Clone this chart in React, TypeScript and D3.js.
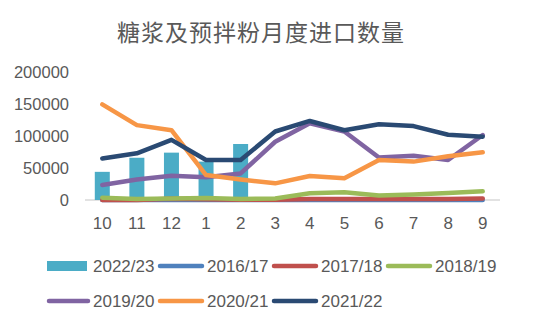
import React from "react";
import * as d3 from "d3";

const months = ["10", "11", "12", "1", "2", "3", "4", "5", "6", "7", "8", "9"];
const yTicks = [0, 50000, 100000, 150000, 200000];

const bar2223 = [44000, 66000, 74000, 60000, 87500, null, null, null, null, null, null, null];
const s1617 = [0, 0, 0, 0, 0, 0, 0, 0, 0, 0, 0, 0];
const s1718 = [0, 0, 2000, 1000, 500, 500, 1500, 1500, 1500, 1500, 1500, 2500];
const s1819 = [3500, 1500, 2500, 3000, 1500, 2500, 10500, 12000, 7000, 8500, 11000, 13500];
const s1920 = [23500, 32000, 38000, 35500, 41500, 91000, 120000, 107000, 66500, 69000, 62500, 101500];
const s2021 = [149500, 117000, 109000, 39000, 32000, 26000, 37500, 34000, 62500, 60000, 68500, 74500];
const s2122 = [65000, 73000, 94000, 62500, 62500, 107000, 123500, 109000, 118500, 115500, 102000, 99000];

const lineSeries = [
  { name: "2016/17", values: s1617, color: "#4F81BD" },
  { name: "2017/18", values: s1718, color: "#C0504D" },
  { name: "2018/19", values: s1819, color: "#9BBB59" },
  { name: "2019/20", values: s1920, color: "#8064A2" },
  { name: "2020/21", values: s2021, color: "#F79646" },
  { name: "2021/22", values: s2122, color: "#2A4A73" },
];
const barColor = "#4BACC6";

export default function App() {
  const W = 539, H = 328;
  const x = d3.scaleBand<string>().domain(months).range([85, 500]).padding(0);
  const y = d3.scaleLinear().domain([0, 200000]).range([200, 72]);
  const line = d3
    .line<number>()
    .x((_, i) => (x(months[i]) as number) + x.bandwidth() / 2)
    .y((d) => y(d));
  const barW = 15;
  const font = "'Liberation Sans', Arial, sans-serif";

  const legendItems = [
    { name: "2022/23", color: barColor, bar: true },
    ...lineSeries.map((s) => ({ name: s.name, color: s.color, bar: false })),
  ];

  return (
    <svg width={W} height={H} style={{ position: "absolute", left: 0, top: 0, background: "#fff" }}>
      <text
        x={261}
        y={31}
        textAnchor="middle"
        dominantBaseline="central"
        fontFamily="'Noto Sans CJK SC', sans-serif"
        fontSize={23}
        letterSpacing={1}
        fill="#595959"
      >
        糖浆及预拌粉月度进口数量
      </text>
      {yTicks.map((t) => (
        <text
          key={t}
          x={69}
          y={y(t)}
          textAnchor="end"
          dominantBaseline="central"
          fontFamily={font}
          fontSize={16.5}
          fill="#595959"
        >
          {t}
        </text>
      ))}
      <line x1={85} x2={500} y1={y(0)} y2={y(0)} stroke="#D9D9D9" strokeWidth={1.5} />
      {bar2223.map((v, i) =>
        v == null ? null : (
          <rect
            key={i}
            x={(x(months[i]) as number) + x.bandwidth() / 2 - barW / 2}
            y={y(v)}
            width={barW}
            height={y(0) - y(v)}
            fill={barColor}
          />
        )
      )}
      {lineSeries.map((s) => (
        <path
          key={s.name}
          d={line(s.values) || ""}
          fill="none"
          stroke={s.color}
          strokeWidth={4.5}
          strokeLinejoin="round"
          strokeLinecap="round"
        />
      ))}
      {months.map((m) => (
        <text
          key={m}
          x={(x(m) as number) + x.bandwidth() / 2}
          y={223}
          textAnchor="middle"
          dominantBaseline="central"
          fontFamily={font}
          fontSize={17}
          fill="#595959"
        >
          {m}
        </text>
      ))}
      {legendItems.map((it, i) => {
        const row = Math.floor(i / 4);
        const col = i % 4;
        const x0 = 47 + col * 114;
        const cy = row === 0 ? 266 : 301;
        return (
          <g key={it.name}>
            {it.bar ? (
              <rect x={x0} y={cy - 5} width={40} height={10} fill={it.color} />
            ) : (
              <line
                x1={col === 0 ? x0 + 2 : x0 - 1}
                x2={x0 + 41}
                y1={cy}
                y2={cy}
                stroke={it.color}
                strokeWidth={4.5}
                strokeLinecap="round"
              />
            )}
            <text
              x={x0 + 46}
              y={cy}
              dominantBaseline="central"
              fontFamily={font}
              fontSize={17}
              fill="#595959"
            >
              {it.name}
            </text>
          </g>
        );
      })}
    </svg>
  );
}
